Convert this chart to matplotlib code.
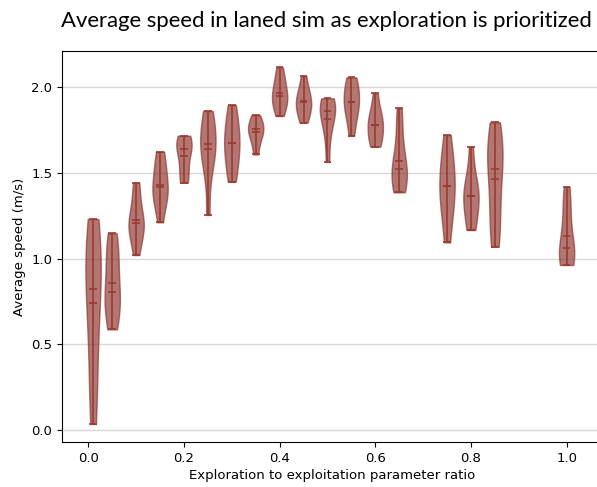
import matplotlib
matplotlib.use("Agg")
import matplotlib.pyplot as plt
import numpy as np

# exploration / exploitation ratio for each batch of runs
ratios = [0.01, 0.05, 0.1, 0.15, 0.2, 0.25, 0.3, 0.35, 0.4, 0.45,
          0.5, 0.55, 0.6, 0.65, 0.75, 0.8, 0.85, 1.0]

# average speed (m/s) of the runs at each ratio
speed_001 = [0.035, 0.22, 0.375, 0.6, 0.72, 0.82, 0.9, 1.0, 1.08, 1.15, 1.23]
speed_005 = [0.587, 0.66, 0.73, 0.78, 0.806, 0.93, 1.01, 1.08, 1.147]
speed_010 = [1.02, 1.12, 1.18, 1.2, 1.21, 1.25, 1.378, 1.442]
speed_015 = [1.211, 1.34, 1.36, 1.4, 1.43, 1.5, 1.57, 1.623]
speed_020 = [1.442, 1.47, 1.538, 1.62, 1.654, 1.67, 1.69, 1.716]
speed_025 = [1.254, 1.554, 1.58, 1.64, 1.692, 1.74, 1.8, 1.86]
speed_030 = [1.448, 1.52, 1.6, 1.66, 1.684, 1.75, 1.82, 1.895]
speed_035 = [1.607, 1.69, 1.72, 1.753, 1.77, 1.79, 1.835]
speed_040 = [1.831, 1.88, 1.92, 1.94, 1.956, 2.012, 2.05, 2.115]
speed_045 = [1.792, 1.84, 1.87, 1.9, 1.922, 1.95, 1.99, 2.064]
speed_050 = [1.563, 1.72, 1.79, 1.85, 1.87, 1.89, 1.91, 1.934]
speed_055 = [1.716, 1.81, 1.878, 1.89, 1.93, 1.98, 2.02, 2.056]
speed_060 = [1.652, 1.68, 1.72, 1.76, 1.796, 1.82, 1.86, 1.963]
speed_065 = [1.386, 1.43, 1.47, 1.5, 1.54, 1.6, 1.758, 1.876]
speed_075 = [1.094, 1.25, 1.33, 1.4, 1.446, 1.52, 1.6, 1.72]
speed_080 = [1.166, 1.2, 1.3, 1.35, 1.378, 1.4, 1.47, 1.652]
speed_085 = [1.069, 1.15, 1.25, 1.35, 1.5, 1.548, 1.6, 1.66, 1.72, 1.794]
speed_100 = [0.962, 0.99, 1.02, 1.05, 1.068, 1.22, 1.32, 1.419]

speeds = [speed_001, speed_005, speed_010, speed_015, speed_020, speed_025,
          speed_030, speed_035, speed_040, speed_045, speed_050, speed_055,
          speed_060, speed_065, speed_075, speed_080, speed_085, speed_100]

body_color = '#8b2f2a'
line_color = '#9a3a30'

fig = plt.figure(figsize=(5.97, 4.87), dpi=100)
# right edge of the axes sits just past the figure edge, as in the original crop
ax = fig.add_axes([62 / 597, 45 / 487, 540 / 597, 391 / 487])

parts = ax.violinplot(speeds, positions=ratios, widths=0.032,
                      showmeans=True, showmedians=True, showextrema=True)
for body in parts['bodies']:
    body.set_facecolor(body_color)
    body.set_edgecolor(body_color)
    body.set_alpha(0.66)
for key in ['cmins', 'cmaxes', 'cbars', 'cmeans', 'cmedians']:
    parts[key].set_color(line_color)
    parts[key].set_linewidth(1.2)

ax.set_xlim(-0.055, 1.074)
ax.set_ylim(-0.07, 2.21)
ax.set_xticks([0.0, 0.2, 0.4, 0.6, 0.8, 1.0])
ax.set_yticks([0.0, 0.5, 1.0, 1.5, 2.0])
ax.tick_params(labelsize=9.5)
ax.yaxis.grid(True, color='#d9d9d9', linewidth=1.0)
ax.set_axisbelow(True)

ax.set_xlabel("Exploration to exploitation parameter ratio", fontsize=9.5, labelpad=3)
ax.set_ylabel("Average speed (m/s)", fontsize=9.5)

fig.text(0.547, 0.957, "Average speed in laned sim as exploration is prioritized",
         ha='center', va='center', fontsize=15.9, family='Lato')

fig.savefig("out.png", dpi=100)
